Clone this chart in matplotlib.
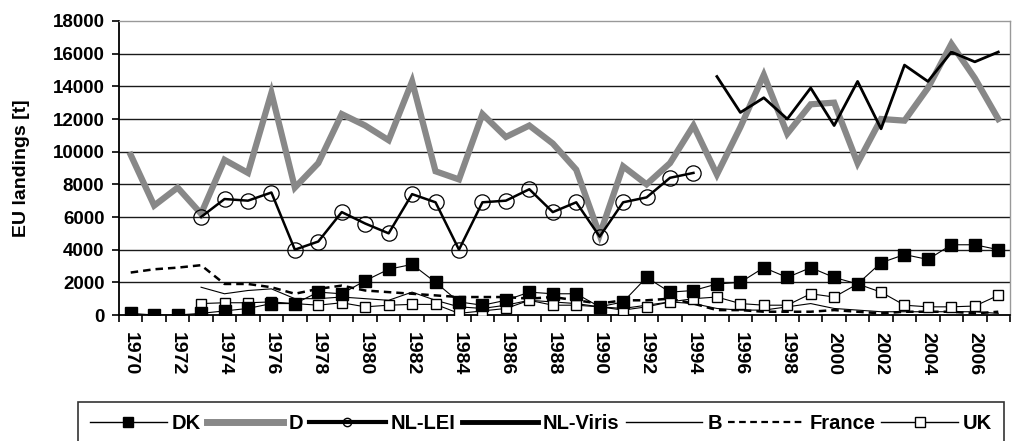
import numpy as np
import matplotlib
matplotlib.use("Agg")
import matplotlib.pyplot as plt
from matplotlib.lines import Line2D

nan = np.nan
years = list(range(1970, 2008))

dk = [100, 0, 0, 100, 250, 400, 700, 700, 1400, 1300, 2100, 2800, 3100, 2000, 800, 600,
      900, 1400, 1300, 1300, 500, 800, 2300, 1400, 1500, 1900, 2000, 2900, 2300, 2900,
      2300, 1900, 3200, 3700, 3400, 4300, 4300, 4000]
d = [9800, 6700, 7800, 6200, 9500, 8700, 13600, 7800, 9300, 12300, 11600, 10700, 14300,
     8800, 8300, 12300, 10900, 11600, 10500, 8900, 4900, 9100, 8000, 9300, 11600, 8600,
     11500, 14700, 11100, 12900, 13000, 9300, 12000, 11900, 13900, 16600, 14500, 12000]
nl_lei = [nan, nan, nan, 6000, 7100, 7000, 7500, 4000, 4500, 6300, 5600, 5000, 7400, 6900,
          4000, 6900, 7000, 7700, 6300, 6900, 4800, 6900, 7200, 8400, 8700] + [nan] * 13
nl_viris = [nan] * 25 + [14600, 12400, 13300, 12000, 13900, 11600, 14300, 11400, 15300,
                         14300, 16100, 15500, 16100]
b = [nan, nan, nan, 1700, 1300, 1500, 1600, 1000, 1000, 1100, 1000, 900, 1400, 900, 500,
     400, 600, 900, 800, 700, 500, 400, 600, 800, 700, 400, 300, 300, 500, 700, 400, 300,
     200, 200, 200, 200, 200, 100]
france = [2600, 2800, 2900, 3050, 1900, 1900, 1700, 1300, 1600, 1800, 1500, 1400, 1300,
          1200, 1100, 1100, 1100, 1000, 1100, 900, 700, 900, 900, 1000, 700, 300, 300, 200,
          200, 200, 300, 200, 100, 200, 200, 200, 100, 200]
uk = [nan, nan, nan, 700, 750, 750, 800, 700, 600, 750, 500, 600, 650, 650, 100, 250, 400,
      900, 600, 600, 500, 300, 500, 800, 1000, 1100, 700, 600, 600, 1300, 1100, 1900, 1400,
      600, 500, 500, 550, 1200]
series_names = ["DK", "D", "NL-LEI", "NL-Viris", "B", "France", "UK"]

plt.rcParams['font.family'] = ['Liberation Sans', 'DejaVu Sans']
plt.rcParams['font.weight'] = 'bold'

fig = plt.figure(figsize=(10.23, 4.41), dpi=100)
ax = fig.add_axes([119/1023, 1-315/441, (1010-119)/1023, (315-21)/441])

x = np.arange(len(years))

ax.plot(x, d, color='#888888', lw=4.5, solid_joinstyle='miter', zorder=2)
ax.plot(x, nl_lei, color='black', lw=1.8, marker='o', ms=11, mfc='none', mec='black',
        mew=0.9, zorder=3)
ax.plot(x, nl_viris, color='black', lw=2.0, zorder=3)
ax.plot(x, b, color='black', lw=0.8, zorder=4)
ax.plot(x, france, color='black', lw=1.8, linestyle=(0, (3, 2)), zorder=4)
ax.plot(x, uk, color='black', lw=0.8, marker='s', ms=7.5, mfc='white', mec='black',
        mew=1.0, zorder=5)
ax.plot(x, dk, color='black', lw=0.8, marker='s', ms=8, mfc='black', mec='black', zorder=6)

ax.set_xlim(-0.5, len(years) - 0.5)
ax.set_ylim(0, 18000)
ax.set_yticks(np.arange(0, 18001, 2000))
for yv in range(2000, 18000, 2000):
    ax.axhline(yv, color='#1a1a1a', lw=1.0, zorder=1)

ax.set_xticks(x)
ax.set_xticklabels([str(y) if y % 2 == 0 else '' for y in years], rotation=-90,
                   fontsize=14, fontweight='bold')
ax.set_xticks(np.arange(-0.5, len(years), 1.0), minor=True)
ax.tick_params(axis='x', which='major', length=0, pad=12)
ax.tick_params(axis='x', which='minor', length=5, width=1.2, direction='out')
ax.tick_params(axis='y', which='major', length=5, width=1.2, direction='out', pad=5.5,
               labelsize=13.5)
for lab in ax.get_yticklabels():
    lab.set_fontweight('bold')

ax.spines['left'].set_linewidth(1.3)
ax.spines['bottom'].set_linewidth(1.3)
ax.spines['top'].set_color('#999999')
ax.spines['right'].set_color('#999999')
ax.spines['top'].set_linewidth(1.0)
ax.spines['right'].set_linewidth(1.0)

fig.text(22/1023, 1-168/441, 'EU landings [t]', rotation=90, ha='center', va='center',
         fontsize=14, fontweight='bold')

handles = [
    Line2D([], [], color='black', lw=1, marker='s', ms=7, mfc='black'),
    Line2D([], [], color='#888888', lw=5),
    Line2D([], [], color='black', lw=3, marker='o', ms=6, mfc='none', mew=1),
    Line2D([], [], color='black', lw=3.5),
    Line2D([], [], color='black', lw=1),
    Line2D([], [], color='black', lw=1.6, linestyle=(0, (3, 2))),
    Line2D([], [], color='black', lw=1, marker='s', ms=7, mfc='white', mec='black'),
]
leg = fig.legend(handles, series_names, loc='upper left',
                 bbox_to_anchor=(78/1023, 1-402/441), ncol=7, frameon=True,
                 fancybox=False, edgecolor='black', borderaxespad=0, borderpad=0.6,
                 handlelength=3.8, handletextpad=0.25, columnspacing=0.3,
                 prop={'weight': 'bold', 'size': 14.5})
leg.get_frame().set_linewidth(1.2)

fig.savefig('out.png', dpi=100)
